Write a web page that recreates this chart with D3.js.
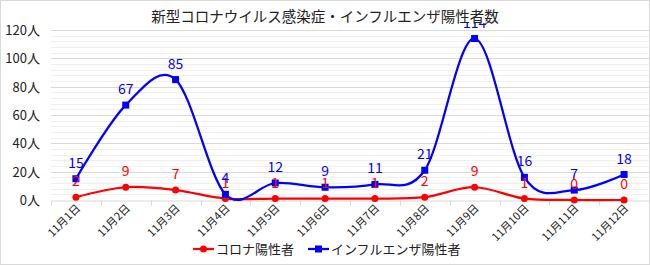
<!DOCTYPE html>
<html>
<head>
<meta charset="utf-8">
<script src="https://cdn.jsdelivr.net/npm/d3@7"></script>
<style>
  body { margin: 0; background: #fff; }
  text { font-family: "Noto Sans CJK JP", "Noto Sans", sans-serif; }
</style>
</head>
<body>
<div id="chart"></div>
<script>
// ----------------------------
// Data
// ----------------------------
const days = ["11月1日", "11月2日", "11月3日", "11月4日", "11月5日", "11月6日",
              "11月7日", "11月8日", "11月9日", "11月10日", "11月11日", "11月12日"];
const coronaValues = [2, 9, 7, 1, 1, 1, 1, 2, 9, 1, 0, 0];
const fluValues = [15, 67, 85, 4, 12, 9, 11, 21, 114, 16, 7, 18];
const yTicks = [0, 20, 40, 60, 80, 100, 120];
const seriesNames = ["コロナ陽性者", "インフルエンザ陽性者"];
const titleText = "新型コロナウイルス感染症・インフルエンザ陽性者数";

const width = 650;
const height = 265;
const marginTop = 30;
const marginRight = 1;
const marginBottom = 65;
const marginLeft = 51;

const red = "#ff0000";
const blue = "#0000ff";

const svg = d3.create("svg")
    .attr("width", width)
    .attr("height", height)
    .attr("viewBox", [0, 0, width, height]);

// outer border
svg.append("rect")
    .attr("x", 0.5).attr("y", 0.5)
    .attr("width", width - 1).attr("height", height - 1)
    .attr("fill", "#fff")
    .attr("stroke", "#d9d9d9");

const x = d3.scaleBand()
    .domain(days)
    .range([marginLeft, width - marginRight]);

const y = d3.scaleLinear()
    .domain([0, 120])
    .range([height - marginBottom, marginTop]);

const cx = d => x(d) + x.bandwidth() / 2;

// minor gridlines
svg.append("g")
    .selectAll("line")
    .data(d3.range(0, 121, 4).filter(v => v % 20 !== 0))
    .join("line")
        .attr("x1", marginLeft)
        .attr("x2", width - marginRight)
        .attr("y1", d => Math.round(y(d)) + 0.5)
        .attr("y2", d => Math.round(y(d)) + 0.5)
        .attr("stroke", "#f0f0f0");

// major gridlines
svg.append("g")
    .selectAll("line")
    .data(yTicks.filter(v => v > 0))
    .join("line")
        .attr("x1", marginLeft)
        .attr("x2", width - marginRight)
        .attr("y1", d => Math.round(y(d)) + 0.5)
        .attr("y2", d => Math.round(y(d)) + 0.5)
        .attr("stroke", "#d9d9d9");

// y axis labels
svg.append("g")
    .selectAll("text")
    .data(yTicks)
    .join("text")
        .attr("x", 40)
        .attr("y", d => y(d) + 5)
        .attr("text-anchor", "end")
        .attr("font-size", 13)
        .attr("fill", "#222")
        .text(d => d + "人");

// x axis
const xAxis = svg.append("g")
    .attr("transform", `translate(0,${Math.round(y(0)) + 0.5})`)
    .call(d3.axisBottom(x).tickSize(0).tickFormat(""));
xAxis.select(".domain").attr("stroke", "#d9d9d9");
xAxis.append("g")
    .selectAll("line")
    .data(d3.range(days.length + 1))
    .join("line")
        .attr("x1", i => Math.round(marginLeft + i * x.step()) + 0.5)
        .attr("x2", i => Math.round(marginLeft + i * x.step()) + 0.5)
        .attr("y1", 0)
        .attr("y2", 5)
        .attr("stroke", "#d9d9d9");

svg.append("g")
    .selectAll("text")
    .data(days)
    .join("text")
        .attr("transform", d => `translate(${cx(d) + 5},${y(0) + 9}) rotate(-45)`)
        .attr("text-anchor", "end")
        .attr("font-size", 11)
        .attr("fill", "#222")
        .text(d => d);

// lines
const line = d3.line()
    .x((d, i) => cx(days[i]))
    .y(d => y(d))
    .curve(d3.curveCardinal.tension(0));

svg.append("path")
    .datum(coronaValues)
    .attr("fill", "none")
    .attr("stroke", red)
    .attr("stroke-width", 2.25)
    .attr("d", line);

svg.append("path")
    .datum(fluValues)
    .attr("fill", "none")
    .attr("stroke", blue)
    .attr("stroke-width", 2.25)
    .attr("d", line);

// markers
svg.append("g")
    .selectAll("circle")
    .data(coronaValues)
    .join("circle")
        .attr("cx", (d, i) => cx(days[i]))
        .attr("cy", d => y(d))
        .attr("r", 3.5)
        .attr("fill", red);

svg.append("g")
    .selectAll("rect")
    .data(fluValues)
    .join("rect")
        .attr("x", (d, i) => cx(days[i]) - 3.5)
        .attr("y", d => y(d) - 3.5)
        .attr("width", 7)
        .attr("height", 7)
        .attr("fill", blue);

// data labels
svg.append("g")
    .selectAll("text")
    .data(coronaValues)
    .join("text")
        .attr("x", (d, i) => cx(days[i]))
        .attr("y", d => y(d) - 11)
        .attr("text-anchor", "middle")
        .attr("font-size", 14)
        .attr("fill", red)
        .text(d => d);

svg.append("g")
    .selectAll("text")
    .data(fluValues)
    .join("text")
        .attr("x", (d, i) => cx(days[i]))
        .attr("y", d => y(d) - 11)
        .attr("text-anchor", "middle")
        .attr("font-size", 14)
        .attr("fill", blue)
        .text(d => d);

// title (with white box, covers the top of labels beneath it)
svg.append("rect")
    .attr("x", 146).attr("y", 3)
    .attr("width", 358).attr("height", 20)
    .attr("fill", "#fff");
svg.append("text")
    .attr("x", width / 2)
    .attr("y", 22)
    .attr("text-anchor", "middle")
    .attr("font-size", 14.5)
    .attr("fill", "#222")
    .text(titleText);

// legend
const legendY = 249;
const legend = svg.append("g");
const legendItems = [
    { name: seriesNames[0], color: red, x: 193, shape: "circle" },
    { name: seriesNames[1], color: blue, x: 308, shape: "square" }
];
legendItems.forEach(it => {
    legend.append("line")
        .attr("x1", it.x).attr("x2", it.x + 21)
        .attr("y1", legendY).attr("y2", legendY)
        .attr("stroke", it.color)
        .attr("stroke-width", 2.25);
    if (it.shape === "circle") {
        legend.append("circle")
            .attr("cx", it.x + 10.5).attr("cy", legendY).attr("r", 3.5)
            .attr("fill", it.color);
    } else {
        legend.append("rect")
            .attr("x", it.x + 7).attr("y", legendY - 3.5)
            .attr("width", 7).attr("height", 7)
            .attr("fill", it.color);
    }
    legend.append("text")
        .attr("x", it.x + 23)
        .attr("y", legendY + 5)
        .attr("font-size", 13)
        .attr("fill", "#222")
        .text(it.name);
});

document.getElementById("chart").appendChild(svg.node());
</script>
</body>
</html>
